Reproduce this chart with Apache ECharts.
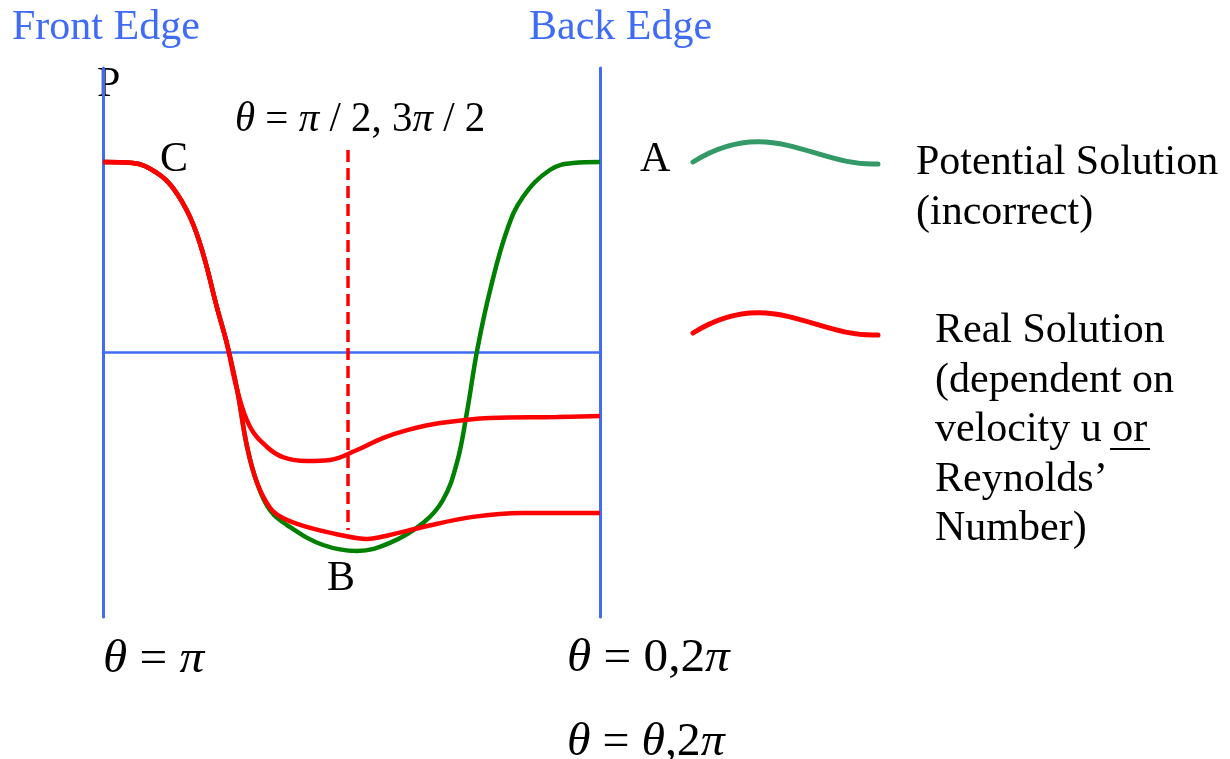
<!DOCTYPE html>
<html>
<head>
<meta charset="utf-8">
<script src="https://cdn.jsdelivr.net/npm/echarts@6/dist/echarts.min.js"></script>
<style>
  html, body { margin: 0; padding: 0; background: #fff; }
  #chart { width: 1230px; height: 759px; }
</style>
</head>
<body>
<div id="chart"></div>
<script>
// x: position between front edge (0) and back edge (100), y: pressure (stagnation = 100)
var potential = [
  [0, 100], [6.0, 99.5], [10.9, 94.2], [14.1, 86.3], [17.5, 71.1], [20.1, 52.1],
  [22.9, 23.7], [24.9, 4.7], [27.0, -20], [29.0, -50], [31.0, -68.9], [33.6, -83.2],
  [37.6, -92.1], [44.3, -101.6], [51.1, -104.7], [57.7, -100.5], [64.4, -90],
  [68.4, -77.9], [71.2, -58.4], [73.2, -32.1], [75.3, 1.1], [77.9, 32.6],
  [81.3, 64.2], [84.5, 81.6], [89.9, 95.8], [94.6, 99.5], [100, 100]
];
var realHigh = [
  [0, 100], [6.0, 99.5], [10.9, 94.2], [14.1, 86.3], [17.5, 71.1], [20.1, 52.1],
  [22.9, 23.7], [24.9, 4.7], [27.0, -20], [29.6, -39.5], [33.0, -50], [36.2, -55.3],
  [41.0, -57.4], [45.7, -56.8], [51.1, -51.6], [56.3, -45.3], [61.2, -41.1],
  [67.8, -37.4], [77.9, -34.7], [91.3, -34.2], [100, -33.7]
];
var realLow = [
  [0, 100], [6.0, 99.5], [10.9, 94.2], [14.1, 86.3], [17.5, 71.1], [20.1, 52.1],
  [22.9, 23.7], [24.9, 4.7], [27.0, -20], [29.0, -50], [31.0, -68.9], [33.6, -82],
  [36.2, -87.4], [41.0, -92.1], [47.7, -96.3], [53.1, -98.4], [57.7, -96.3],
  [64.4, -92.1], [74.4, -86.8], [84.5, -84.7], [100, -84.7]
];
var halfPi = [[49.3, 106.3], [49.3, -93.7]];

var legendLines = ['Potential Solution\n(incorrect)',
  'Real Solution\n(dependent on\nvelocity u or\nReynolds\u2019\nNumber)'];

var BLUE = '#3f6bf5';
var SERIF = '"Liberation Serif", "DejaVu Serif", serif';

function richFor(size) {
  return {
    i: { fontFamily: SERIF, fontStyle: 'italic', fontSize: size, fill: '#000' },
    n: { fontFamily: SERIF, fontSize: size, fill: '#000' }
  };
}

function label(x, y, text, color) {
  return {
    type: 'text', x: x, y: y, silent: true,
    style: { text: text, fill: color || '#000', font: '42px ' + SERIF,
      verticalAlign: 'top', lineHeight: 49.5 }
  };
}
function formula(x, y, text, size, sx) {
  return {
    type: 'text', x: x, y: y, scaleX: sx || 1, silent: true,
    style: { text: text, rich: richFor(size), verticalAlign: 'top', font: size + 'px ' + SERIF }
  };
}
function squiggle(y, color) {
  return {
    type: 'bezierCurve', silent: true,
    shape: { x1: 693, y1: y, cpx1: 770, cpy1: y - 48, cpx2: 815, cpy2: y + 5, x2: 878, y2: y + 2 },
    style: { stroke: color, lineWidth: 5, fill: null, lineCap: 'round' }
  };
}

var chart = echarts.init(document.getElementById('chart'));
chart.setOption({
  animation: false,
  grid: { left: 103, right: 630, top: 68, bottom: 142 },
  xAxis: {
    type: 'value', min: 0, max: 100,
    axisLine: { onZero: true, lineStyle: { color: BLUE, width: 2.5 } },
    axisTick: { show: false }, axisLabel: { show: false }, splitLine: { show: false }
  },
  yAxis: [{
    type: 'value', min: -139.5, max: 149.5, position: 'left',
    axisLine: { show: true, onZero: false, lineStyle: { color: BLUE, width: 3 } },
    axisTick: { show: false }, axisLabel: { show: false }, splitLine: { show: false }
  }, {
    type: 'value', min: -139.5, max: 149.5, position: 'right',
    axisLine: { show: true, onZero: false, lineStyle: { color: BLUE, width: 3 } },
    axisTick: { show: false }, axisLabel: { show: false }, splitLine: { show: false }
  }],
  series: [{
    type: 'line', name: 'Potential Solution', data: potential, smooth: 0.4,
    symbol: 'none', lineStyle: { color: '#008000', width: 4.5 }, z: 2
  }, {
    type: 'line', name: 'Real Solution high', data: realHigh, smooth: 0.4,
    symbol: 'none', lineStyle: { color: '#ff0000', width: 4.5 }, z: 3
  }, {
    type: 'line', name: 'Real Solution low', data: realLow, smooth: 0.4,
    symbol: 'none', lineStyle: { color: '#ff0000', width: 4.5 }, z: 3
  }, {
    type: 'line', name: 'theta half pi', data: halfPi,
    symbol: 'none', lineStyle: { color: '#ff0000', width: 3.5, type: [12, 6] }, z: 1
  }],
  graphic: [
    label(12, 3, 'Front Edge', BLUE),
    label(529, 3, 'Back Edge', BLUE),
    label(97, 60, 'P'),
    label(160, 135.5, 'C'),
    label(640, 135.5, 'A'),
    label(327, 554, 'B'),
    formula(235, 99, '{i|\u03b8}{n| = }{i|\u03c0}{n| / 2, 3}{i|\u03c0}{n| / 2}', 42, 0.975),
    formula(103, 637, '{i|\u03b8}{n| = }{i|\u03c0}', 46, 1.07),
    formula(567, 636, '{i|\u03b8}{n| = 0,2}{i|\u03c0}', 46, 1.07),
    formula(567, 720, '{i|\u03b8}{n| = }{i|\u03b8}{n|,2}{i|\u03c0}', 46, 1.04),
    squiggle(162, '#339966'),
    squiggle(333, '#ff0000'),
    label(916, 138.5, legendLines[0]),
    label(935, 306.7, legendLines[1]),
    { type: 'line', silent: true, shape: { x1: 1110, y1: 449, x2: 1150, y2: 449 },
      style: { stroke: '#000', lineWidth: 2 } }
  ]
});
</script>
</body>
</html>
